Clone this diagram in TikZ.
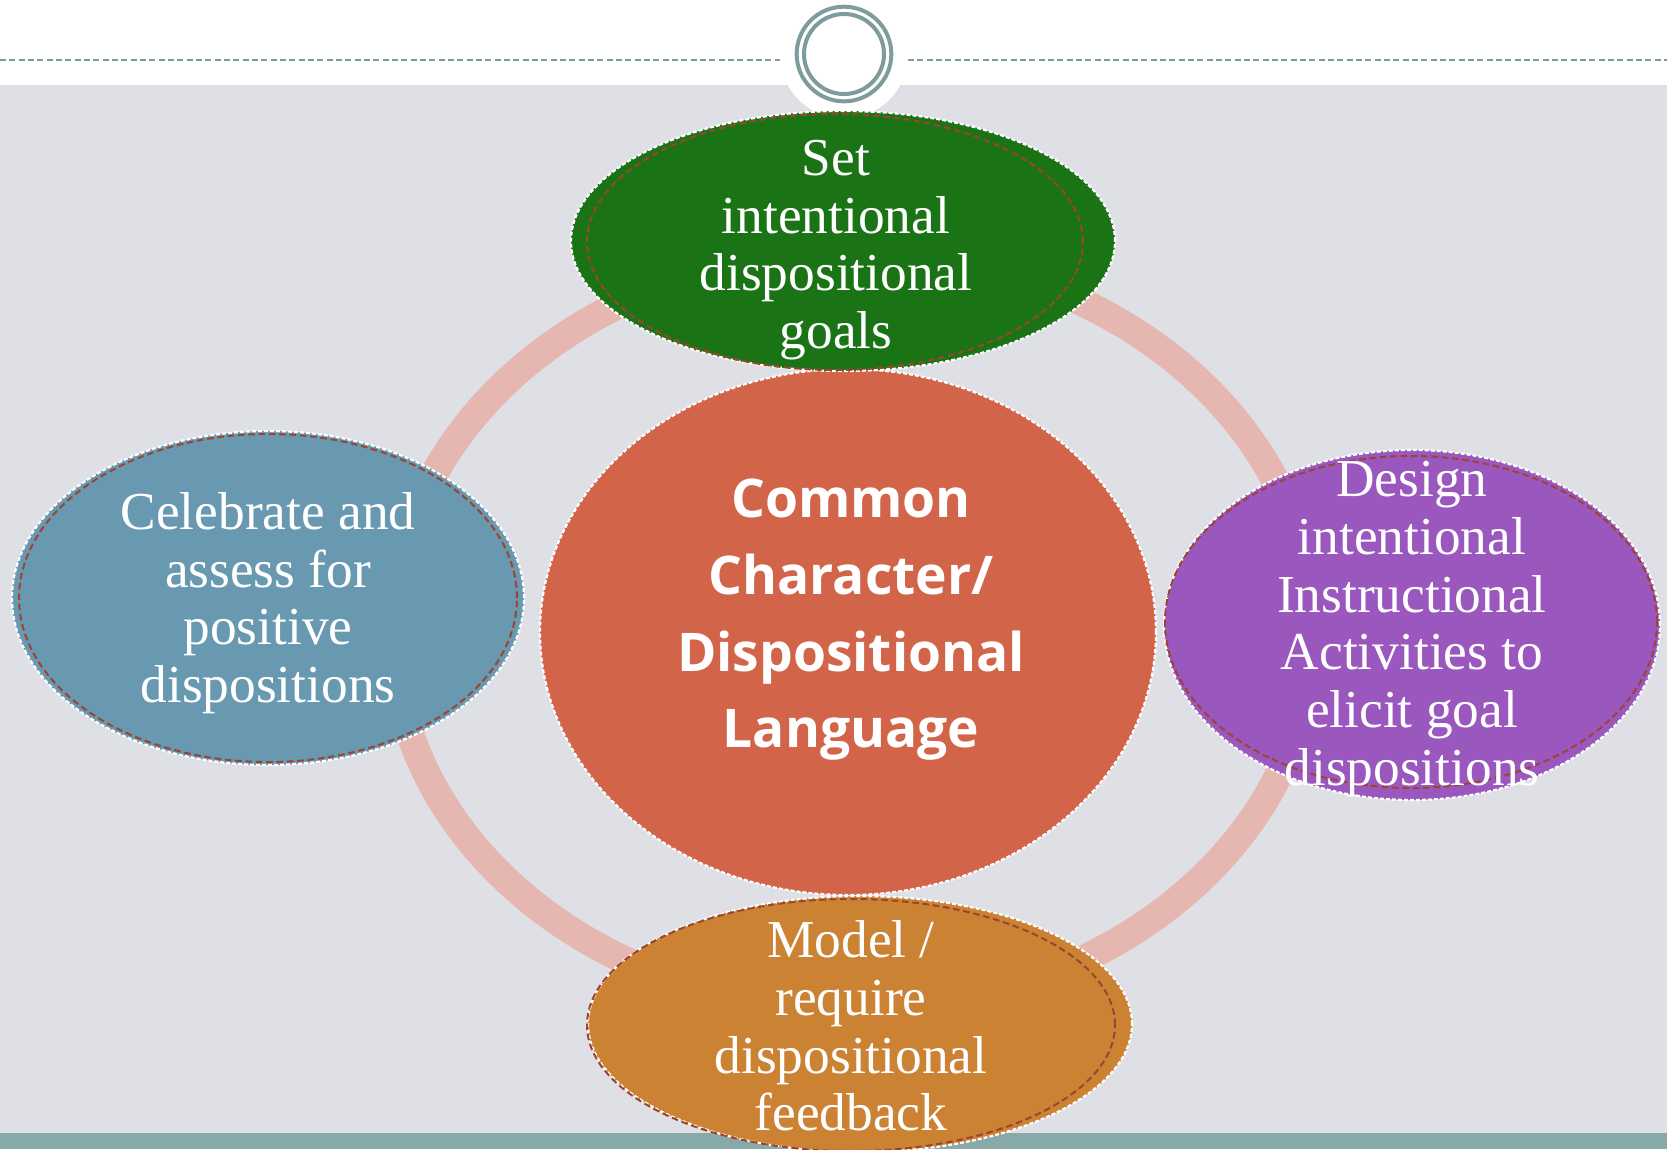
\documentclass[tikz,border=0pt]{standalone}
\usepackage{fontspec}
\setmainfont{Liberation Serif}
\newfontfamily\corefont{Open Sans}
\usetikzlibrary{shapes.geometric}

\definecolor{pagegray}{HTML}{DFE0E5}
\definecolor{topteal}{HTML}{7F9C9C}
\definecolor{barteal}{HTML}{87AAA8}
\definecolor{ringpink}{HTML}{E5B7B0}
\definecolor{rimbrown}{HTML}{9C4430}
\definecolor{goalgreen}{HTML}{1A7315}
\definecolor{corered}{HTML}{D2644A}
\definecolor{assessblue}{HTML}{6899B0}
\definecolor{designpurple}{HTML}{9A57BE}
\definecolor{modelorange}{HTML}{CB8232}

\begin{document}
\begin{tikzpicture}[x=0.3pt,y=-0.3pt,
  bubble/.style={ellipse,draw=white,line width=0.65pt,dash pattern=on 1.2pt off 0.6pt,inner sep=0pt},
  rim/.style={ellipse,draw=rimbrown,line width=0.6pt,dash pattern=on 2pt off 1.1pt,inner sep=0pt},
  bubbletext/.style={text=white,align=center,font=\fontsize{16}{17.3}\selectfont},
  coretext/.style={text=white,align=center,font=\corefont\bfseries\fontsize{16}{23}\selectfont},
  topdash/.style={topteal,line width=0.6pt,dash pattern=on 1.8pt off 1pt}]
   \clip (0,0) rectangle (1667,1149);
   \fill[white] (0,0) rectangle (1667,1149);
   \fill[pagegray] (0,85) rectangle (1667,1133);
   \fill[barteal] (0,1133) rectangle (1667,1149);

   % header line and ring
   \draw[topdash] (0,60) -- (780,60);
   \draw[topdash] (908,60) -- (1667,60);
   \fill[white] (844,54) circle (19.3pt);
   \draw[topteal,line width=1.2pt] (844,54) circle (14.2pt);
   \draw[topteal,line width=1.2pt] (844,54) circle (12pt);

   % cycle ring
   \draw[ringpink,line width=8.4pt] (853,631) ellipse [x radius=138pt,y radius=113.7pt];

   % centre
   \node[bubble,fill=corered,minimum width=184.8pt,minimum height=157.8pt] (core) at (848,632) {};

   % four steps
   \node[bubble,fill=goalgreen,minimum width=163.2pt,minimum height=78pt] (goal) at (843,241) {};
   \node[rim,minimum width=148.8pt,minimum height=76.8pt] (goalrim) at (835,242) {};

   \node[bubble,fill=assessblue,minimum width=153.6pt,minimum height=100.2pt] (assess) at (268,598) {};
   \node[rim,minimum width=149.4pt,minimum height=98.4pt] (assessrim) at (268,598) {};

   \node[bubble,fill=designpurple,minimum width=148.8pt,minimum height=105pt] (design) at (1412,625) {};
   \node[rim,minimum width=147.6pt,minimum height=99.6pt] (designrim) at (1411,622) {};

   \node[bubble,fill=modelorange,minimum width=163.2pt,minimum height=76.8pt] (model) at (860,1024) {};
   \node[rim,minimum width=158.4pt,minimum height=75.6pt] (modelrim) at (851,1025) {};

   % texts
   \node[coretext] (coretxt) at (851,620) {Common\\Character/\\Dispositional\\Language};
   \node[bubbletext] (goaltxt) at (836,250) {Set\\intentional\\dispositional\\goals};
   \node[bubbletext] (assesstxt) at (268,603) {Celebrate and\\assess for\\positive\\dispositions};
   \node[bubbletext] (designtxt) at (1412,629) {Design\\intentional\\Instructional\\Activities to\\elicit goal\\dispositions};
   \node[bubbletext] (modeltxt) at (851,1026) {Model /\\require\\dispositional\\feedback};
  \end{tikzpicture}
\end{document}
